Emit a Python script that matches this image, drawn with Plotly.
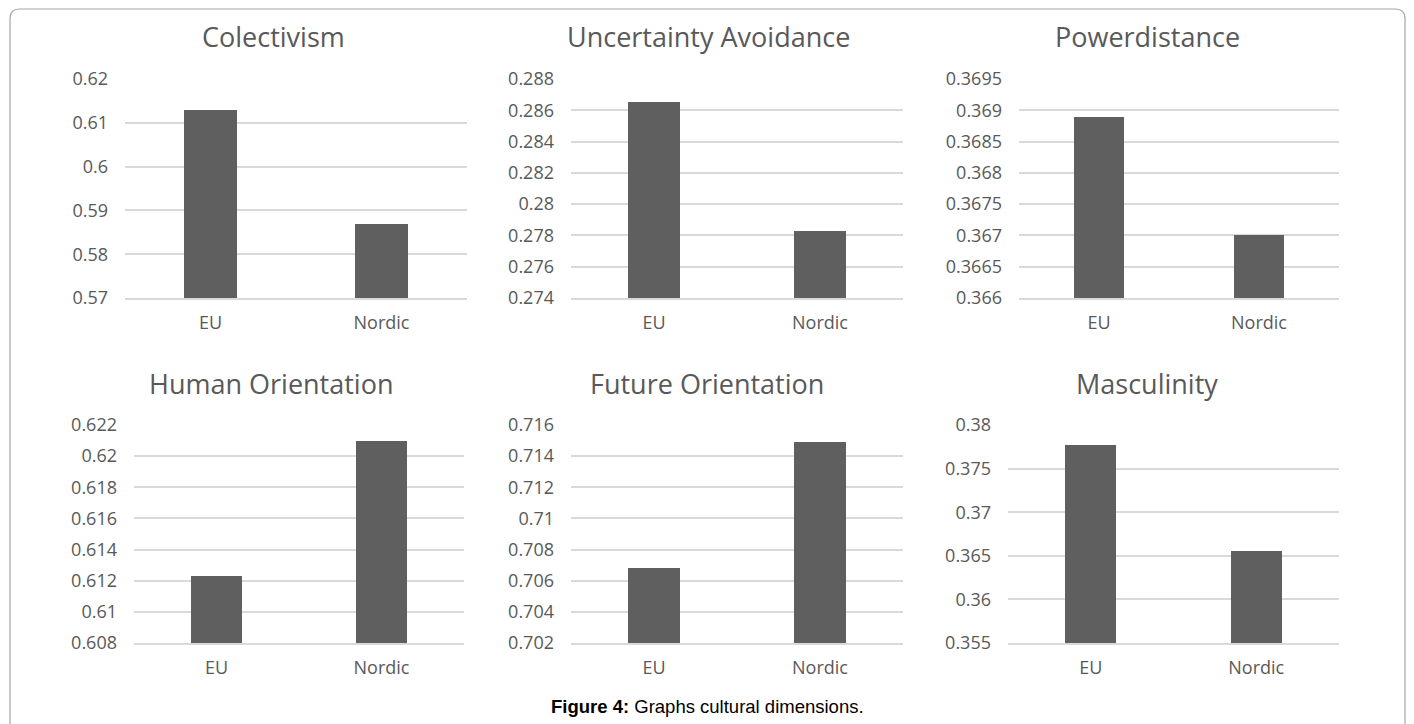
import plotly.graph_objects as go

# ---------------- data ----------------
categories = ["EU", "Nordic"]
titles = ["Colectivism", "Uncertainty Avoidance", "Powerdistance",
          "Human Orientation", "Future Orientation", "Masculinity"]

colectivism = [0.613, 0.587]
uncertainty_avoidance = [0.2865, 0.2783]
powerdistance = [0.3689, 0.3670]
human_orientation = [0.6123, 0.6210]
future_orientation = [0.7068, 0.7149]
masculinity = [0.3777, 0.3655]

colectivism_ticks = [0.57, 0.58, 0.59, 0.6, 0.61, 0.62]
colectivism_labels = ["0.57", "0.58", "0.59", "0.6", "0.61", "0.62"]
uncertainty_ticks = [0.274, 0.276, 0.278, 0.28, 0.282, 0.284, 0.286, 0.288]
uncertainty_labels = ["0.274", "0.276", "0.278", "0.28", "0.282", "0.284", "0.286", "0.288"]
power_ticks = [0.366, 0.3665, 0.367, 0.3675, 0.368, 0.3685, 0.369, 0.3695]
power_labels = ["0.366", "0.3665", "0.367", "0.3675", "0.368", "0.3685", "0.369", "0.3695"]
human_ticks = [0.608, 0.61, 0.612, 0.614, 0.616, 0.618, 0.62, 0.622]
human_labels = ["0.608", "0.61", "0.612", "0.614", "0.616", "0.618", "0.62", "0.622"]
future_ticks = [0.702, 0.704, 0.706, 0.708, 0.71, 0.712, 0.714, 0.716]
future_labels = ["0.702", "0.704", "0.706", "0.708", "0.71", "0.712", "0.714", "0.716"]
masculinity_ticks = [0.355, 0.36, 0.365, 0.37, 0.375, 0.38]
masculinity_labels = ["0.355", "0.36", "0.365", "0.37", "0.375", "0.38"]

caption = "<b>Figure 4:</b> Graphs cultural dimensions."

series = [colectivism, uncertainty_avoidance, powerdistance,
          human_orientation, future_orientation, masculinity]
ticks = [colectivism_ticks, uncertainty_ticks, power_ticks,
         human_ticks, future_ticks, masculinity_ticks]
labels = [colectivism_labels, uncertainty_labels, power_labels,
          human_labels, future_labels, masculinity_labels]

# ---------------- layout geometry (pixels) ----------------
W, H = 1414, 724
# x0, x1, y0(top), y1(bottom), title center x, title center y
geom = [
    (125, 467, 79, 298, 273, 37),
    (571, 903, 79, 298, 708, 37),
    (1019, 1339, 79, 298, 1147, 37),
    (134, 464, 425, 643, 271, 383),
    (571, 903, 425, 643, 707, 383),
    (1008, 1339, 425, 643, 1147, 383),
]

TEXT = "#595959"
GRID = "#d9d9d9"
BAR = "#5f5f5f"
FONT = "Open Sans"

fig = go.Figure()
layout = dict(
    template="none",
    width=W, height=H, autosize=False,
    margin=dict(l=0, r=0, t=0, b=0, pad=0),
    paper_bgcolor="white", plot_bgcolor="white",
    showlegend=False,
    bargap=0,
    annotations=[], shapes=[],
)

for i in range(6):
    n = "" if i == 0 else str(i + 1)
    x0, x1, y0, y1, tcx, tcy = geom[i]
    fig.add_trace(go.Bar(
        x=categories, y=series[i], width=0.31,
        marker=dict(color=BAR, line=dict(width=0)),
        xaxis="x" + n, yaxis="y" + n, hoverinfo="x+y",
    ))
    tv = ticks[i]
    eps = (tv[-1] - tv[0]) * 1e-4
    layout["xaxis" + n] = dict(
        domain=[x0 / W, x1 / W], anchor="y" + n,
        type="category", range=[-0.5, 1.5],
        automargin=False,
        showgrid=False, zeroline=False,
        showline=True, linecolor=GRID, linewidth=1.5,
        ticks="", ticklabelstandoff=8,
        tickfont=dict(family=FONT, size=18, color=TEXT),
        fixedrange=True,
    )
    layout["yaxis" + n] = dict(
        domain=[1 - y1 / H, 1 - y0 / H], anchor="x" + n,
        range=[tv[0] - eps, tv[-1] + eps],
        automargin=False,
        tickmode="array", tickvals=tv, ticktext=labels[i],
        showgrid=True, gridcolor=GRID, gridwidth=1.5,
        zeroline=False, showline=False, ticks="",
        ticklabelstandoff=16,
        tickfont=dict(family=FONT, size=18, color=TEXT),
        fixedrange=True,
    )
    layout["annotations"].append(dict(
        text=titles[i], x=tcx / W, y=1 - tcy / H,
        xref="paper", yref="paper", xanchor="center", yanchor="middle",
        showarrow=False, font=dict(family=FONT, size=27, color=TEXT),
    ))

layout["annotations"].append(dict(
    text=caption, x=707 / W, y=1 - 706 / H,
    xref="paper", yref="paper", xanchor="center", yanchor="middle",
    showarrow=False, font=dict(family="Liberation Sans", size=18.5, color="black"),
))

# rounded border (bottom edge outside the visible frame)
bl, br, bt, bb = 10 / W, 1405 / W, 1 - 9 / H, -20 / H
rx, ry = 10 / W, 10 / H
path = (f"M {bl} {bb} L {bl} {bt - ry} Q {bl} {bt} {bl + rx} {bt} "
        f"L {br - rx} {bt} Q {br} {bt} {br} {bt - ry} L {br} {bb}")
layout["shapes"].append(dict(
    type="path", path=path, xref="paper", yref="paper",
    line=dict(color="#a6a6a6", width=1.2), layer="below",
))

fig.update_layout(**layout)
fig.write_html(
    "out.html",
    config={"displayModeBar": False},
    post_script="document.body.style.margin='0px';"
                "document.body.style.overflow='hidden';",
)
